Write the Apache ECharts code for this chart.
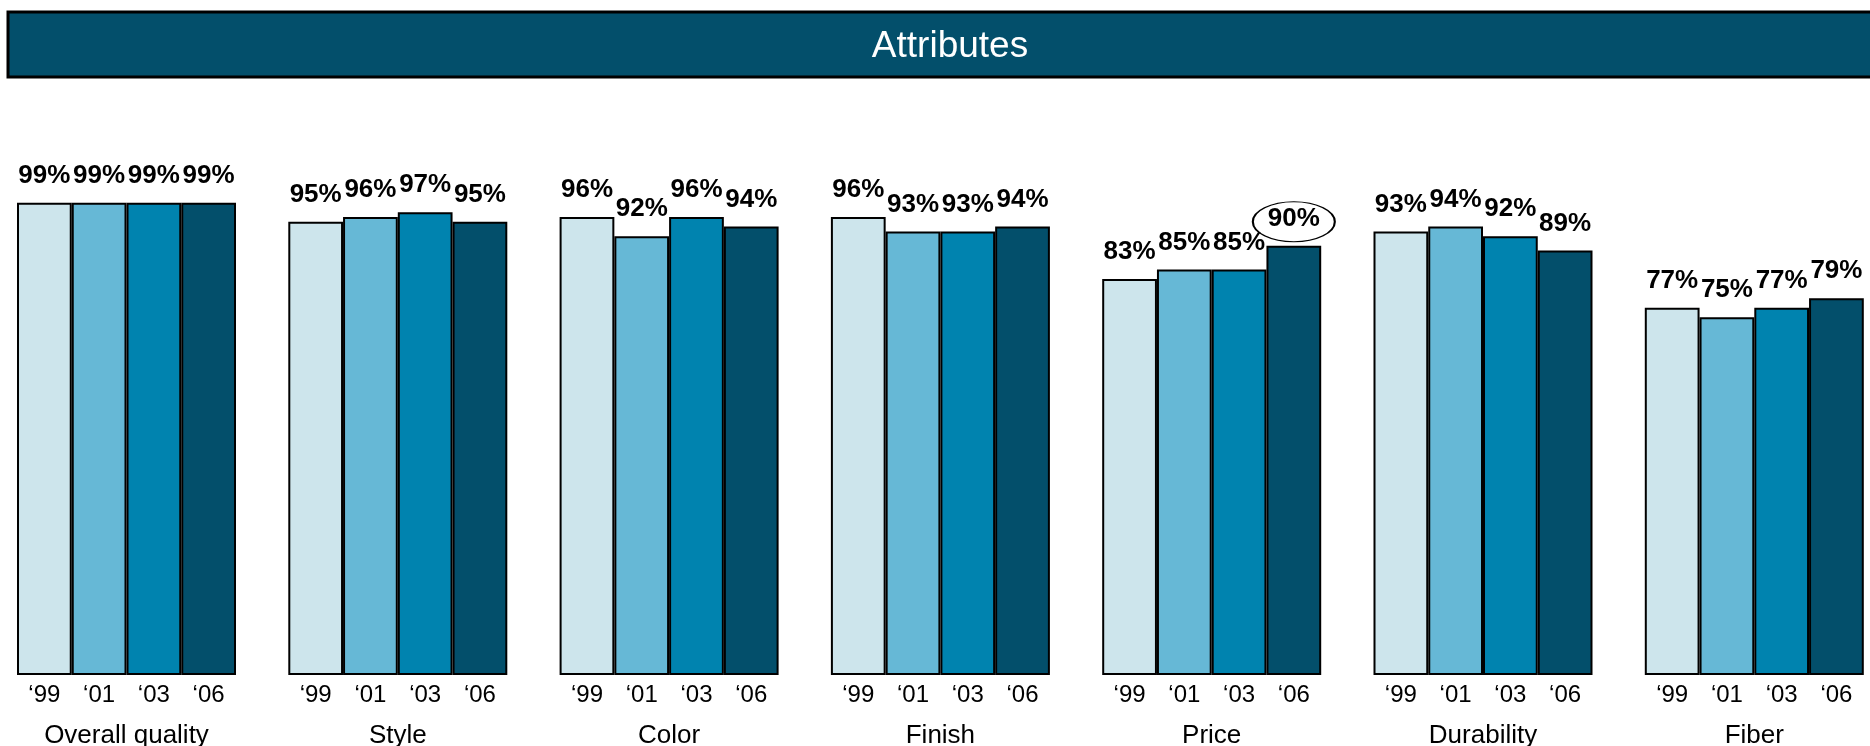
<!DOCTYPE html>
<html>
<head>
<meta charset="utf-8">
<script src="https://cdn.jsdelivr.net/npm/echarts@6/dist/echarts.min.js"></script>
<style>
  html, body { margin: 0; padding: 0; background: #fff; }
  #chart { width: 1870px; height: 746px; }
</style>
</head>
<body>
<div id="chart"></div>
<script>
// Attribute ratings by survey year
const groups = ['Overall quality', 'Style', 'Color', 'Finish', 'Price', 'Durability', 'Fiber'];
const years = ['\u201899', '\u201801', '\u201803', '\u201806'];
const v99 = [99, 95, 96, 96, 83, 93, 77];
const v01 = [99, 96, 92, 93, 85, 94, 75];
const v03 = [99, 97, 96, 93, 85, 92, 77];
const v06 = [99, 95, 94, 94, 90, 89, 79];
// value called out with an ellipse: [group, year]
const circled = [['Price', '\u201806']];

const yearColors = ['#CDE5EC', '#66B8D6', '#0083AF', '#034F6B'];
const FONT = '"Liberation Sans", Arial, Helvetica, sans-serif';

const chart = echarts.init(document.getElementById('chart'));

const firstLeft = 17, pitch = 271.3, panelWidth = 219;
const grids = [], xAxes = [], yAxes = [], series = [];

groups.forEach((g, i) => {
  const vals = [v99[i], v01[i], v03[i], v06[i]];
  grids.push({
    left: firstLeft + pitch * i, width: panelWidth, top: 198, bottom: 71,
    containLabel: false, outerBoundsMode: 'none'
  });
  xAxes.push({
    type: 'category', gridIndex: i, data: years,
    axisLine: { show: false }, axisTick: { show: false },
    axisLabel: { color: '#000', fontSize: 24, fontFamily: FONT, margin: 8 },
    name: g, nameLocation: 'middle', nameGap: 48,
    nameTextStyle: { color: '#000', fontSize: 26, fontFamily: FONT }
  });
  yAxes.push({ type: 'value', gridIndex: i, min: 0, max: 100, show: false, splitLine: { show: false } });

  const marks = circled.filter(c => c[0] === g).map(c => ({ coord: [c[1], vals[years.indexOf(c[1])]] }));

  series.push({
    type: 'bar', xAxisIndex: i, yAxisIndex: i,
    barCategoryGap: 0, barWidth: '100%',
    data: vals.map((v, k) => ({ value: v, itemStyle: { color: yearColors[k] } })),
    itemStyle: { borderColor: '#000', borderWidth: 2 },
    label: {
      show: true, position: 'top', distance: 14,
      formatter: '{c}%', color: '#000', fontSize: 26, fontWeight: 'bold', fontFamily: FONT
    },
    markPoint: marks.length ? {
      symbol: 'circle', symbolSize: [82, 40], symbolOffset: [0, -24],
      itemStyle: { color: 'rgba(0,0,0,0)', borderColor: '#000', borderWidth: 1.5 },
      label: { show: false },
      data: marks
    } : undefined
  });
});

chart.setOption({
  animation: false,
  backgroundColor: '#fff',
  grid: grids, xAxis: xAxes, yAxis: yAxes, series: series,
  graphic: [{
    type: 'group',
    children: [
      { type: 'rect', shape: { x: 8, y: 12, width: 1900, height: 65 },
        style: { fill: '#034F6B', stroke: '#000', lineWidth: 3 } },
      { type: 'text', x: 950, y: 47,
        style: { text: 'Attributes', fill: '#fff', fontSize: 37, fontFamily: FONT,
                 textAlign: 'center', textVerticalAlign: 'middle' } }
    ]
  }]
});
</script>
</body>
</html>
